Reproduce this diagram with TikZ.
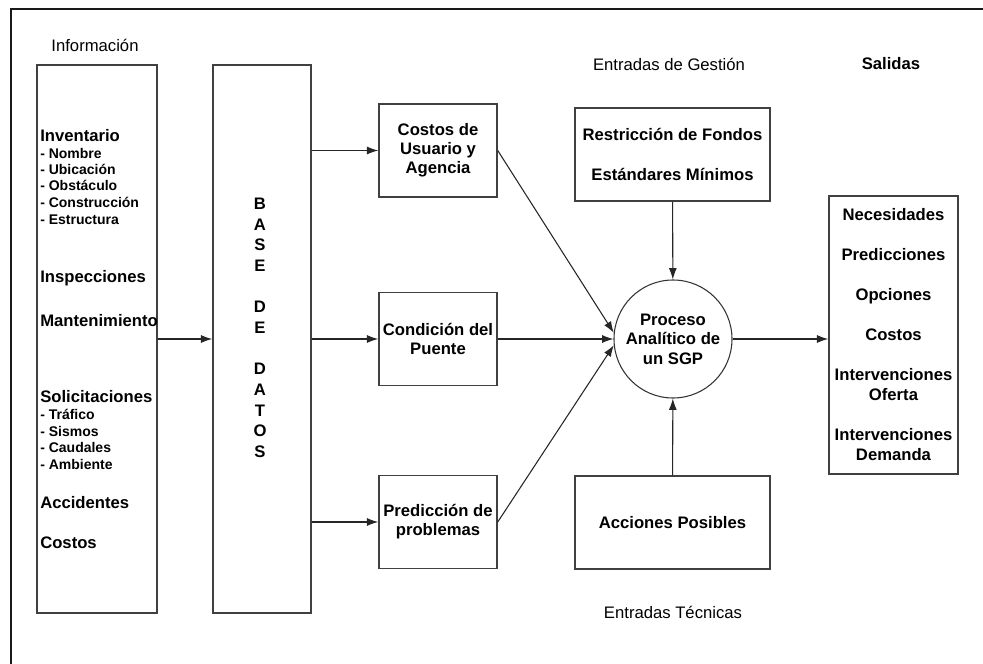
\documentclass[tikz,border=0pt]{standalone}
\usepackage{fontspec}
\setmainfont{Liberation Sans}
\usetikzlibrary{shapes.geometric, arrows, calc, positioning, arrows.meta}
\tikzstyle{box} = [rectangle, draw=black!75, line width=1.1pt, inner sep=0pt, align=center, font=\fontsize{12.5}{14.3}\selectfont\bfseries]
\tikzstyle{proc} = [circle, draw=black!80, line width=0.8pt, inner sep=0pt, minimum size=88.5pt, align=center, font=\fontsize{12.5}{14.6}\selectfont\bfseries]
\tikzstyle{arrow} = [draw=black!85, line width=0.8pt, -{Latex[length=8.5pt,width=6pt]}]
\tikzstyle{item} = [anchor=base west, inner sep=0pt, font=\fontsize{12.5}{15}\selectfont\bfseries]
\tikzstyle{subitem} = [anchor=base west, inner sep=0pt, font=\fontsize{10.5}{12}\selectfont\bfseries]
\tikzstyle{title} = [inner sep=0pt, font=\fontsize{12.5}{15}\selectfont]
\begin{document}
\begin{tikzpicture}[x=0.75pt, y=-0.75pt]
	\useasboundingbox (0,0) rectangle (983,664);
	\draw [line width=1.5pt, black!90] (11,664) -- (11,9) -- (983,9);

	% informacion y base de datos
	\node (lblinfo) [title] at (95,45) {Información};
	\node (info) [box, minimum width=90pt, minimum height=411pt] at (97,339) {};
	\foreach \ty/\tx in {135/Inventario, 276/Inspecciones, 320/Mantenimiento, 396/Solicitaciones, 502/Accidentes, 542/Costos}
		\node (it\ty) [item] at (40,\ty+6) {\tx};
	\foreach \ty/\tx in {153/Nombre, 169/Ubicación, 185/Obstáculo, 202/Construcción, 219/Estructura, 414/Tráfico, 431/Sismos, 447/Caudales, 464/Ambiente}
		\node (sub\ty) [subitem] at (40,\ty+5) {- \tx};
	\node (bd) [box, minimum width=73.5pt, minimum height=411pt] at (262,339) {};
	\node (bdtext) [align=center, inner sep=0pt, font=\fontsize{12.5}{15.5}\selectfont\bfseries] at (260,328)
		{B\\A\\S\\E\\[15.5pt]D\\E\\[15.5pt]D\\A\\T\\O\\S};

	% modelos
	\node (costos) [box, minimum width=88.5pt, minimum height=69.75pt] at (438,150.5) {Costos de\\Usuario y\\Agencia};
	\node (condicion) [box, minimum width=88.5pt, minimum height=69.75pt] at (438,339) {Condición del\\Puente};
	\node (prediccion) [box, minimum width=88.5pt, minimum height=69.75pt] at (438,522) {Predicción de\\problemas};

	% proceso y entradas
	\node (proceso) [proc] at (673,339) {Proceso\\Analítico de\\un SGP};
	\node (lblgestion) [title] at (669,64) {Entradas de Gestión};
	\node (fondos) [box, minimum width=146.25pt, minimum height=69.75pt] at (672.5,154.5) {Restricción de Fondos\\[15.7pt]Estándares Mínimos};
	\node (acciones) [box, minimum width=146.25pt, minimum height=69.75pt] at (672.5,522.5) {Acciones Posibles};
	\node (lbltecnicas) [title] at (673,612) {Entradas Técnicas};

	% salidas
	\node (lblsalidas) [title, font=\fontsize{12.5}{15}\selectfont\bfseries] at (891,64) {Salidas};
	\node (salidas) [box, minimum width=96.75pt, minimum height=208.5pt, font=\fontsize{12.5}{15}\selectfont\bfseries] at (893.5,335)
		{Necesidades\\[15pt]Predicciones\\[15pt]Opciones\\[15pt]Costos\\[15pt]Intervenciones\\Oferta\\[15pt]Intervenciones\\Demanda};

	\draw [arrow] (info) -- (bd);
	\draw [arrow] (bd.east |- costos) -- (costos);
	\draw [arrow] (bd.east |- condicion) -- (condicion);
	\draw [arrow] (bd.east |- prediccion) -- (prediccion);
	\draw [arrow] (costos.east) -- (proceso.174);
	\draw [arrow] (condicion) -- (proceso);
	\draw [arrow] (prediccion.east) -- (proceso.186);
	\draw [arrow] (fondos) -- (proceso);
	\draw [arrow] (acciones) -- (proceso);
	\draw [arrow] (proceso.east) -- (proceso.east -| salidas.west);
\end{tikzpicture}
\end{document}
